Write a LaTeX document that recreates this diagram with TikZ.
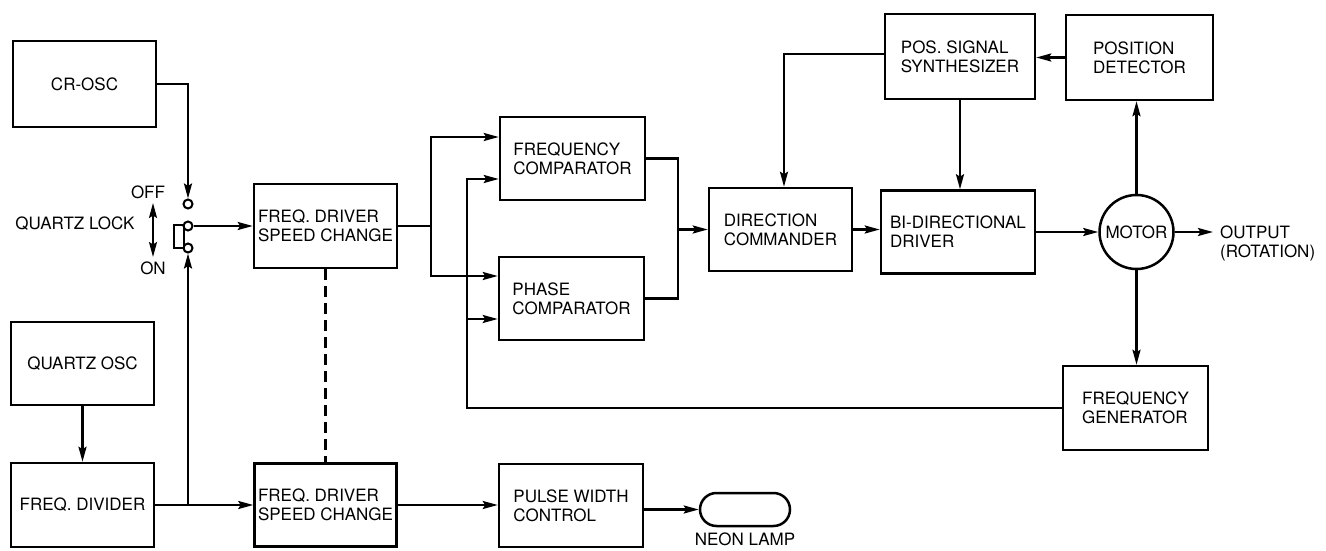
\documentclass[tikz,border=0pt]{standalone}
\usepackage{fontspec}
\setmainfont{TeX Gyre Heros}
\usetikzlibrary{arrows.meta}
\newcommand\diafont{\fontsize{17}{19}\selectfont}
\begin{document}
\begin{tikzpicture}[x=1pt,y=-1pt,
  line width=2.3pt,
  box/.style={draw, rectangle, inner sep=0pt, align=left, font=\diafont, line width=2.5pt},
  arr/.style={-{Stealth[length=15pt,width=8pt,inset=2.5pt]}},
  dblarr/.style={{Stealth[length=15pt,width=8pt,inset=2.5pt]}-{Stealth[length=15pt,width=8pt,inset=2.5pt]}},
  contact/.style={draw, circle, inner sep=0pt, minimum size=9pt, line width=2pt},
  lbl/.style={inner sep=0pt, align=left, font=\diafont}]
\useasboundingbox (0,0) rectangle (1326,551);
% boxes
\node[box, minimum width=143pt, minimum height=86pt] (crosc) at (84.5,84) {CR-OSC};
\node[box, minimum width=143pt, minimum height=83pt] (qosc) at (82.5,363.5) {QUARTZ OSC};
\node[box, minimum width=143pt, minimum height=84pt] (fdiv) at (82.5,505) {FREQ. DIVIDER};
\node[box, minimum width=143pt, minimum height=84pt] (fd1) at (325.5,226) {FREQ. DRIVER\\SPEED CHANGE};
\node[box, minimum width=142pt, minimum height=83pt] (fd2) at (325.5,505) {FREQ. DRIVER\\SPEED CHANGE};
\node[box, minimum width=145pt, minimum height=83pt] (fcomp) at (572.5,158.5) {FREQUENCY\\COMPARATOR};
\node[box, minimum width=145pt, minimum height=83pt] (pcomp) at (571.5,298.5) {PHASE\\COMPARATOR};
\node[box, minimum width=143pt, minimum height=83pt] (dcom) at (780.5,229.5) {DIRECTION\\COMMANDER};
\node[box, minimum width=154pt, minimum height=83pt] (bidd) at (958,232) {BI-DIRECTIONAL\\DRIVER};
\node[box, minimum width=150pt, minimum height=85pt] (pss) at (960,56.5) {POS. SIGNAL\\SYNTHESIZER};
\node[box, minimum width=147pt, minimum height=85pt] (pdet) at (1139.5,57.5) {POSITION\\DETECTOR};
\node[box, circle, minimum size=74pt] (motor) at (1136.5,232) {MOTOR};
\node[box, minimum width=145pt, minimum height=84pt] (fgen) at (1135.5,408) {FREQUENCY\\GENERATOR};
\node[box, minimum width=144pt, minimum height=83pt] (pwc) at (571,505.5) {PULSE WIDTH\\CONTROL};
\node[box, rounded corners=16.5pt, minimum width=90pt, minimum height=33pt] (lamp) at (745,509.5) {};
\node[lbl] (lamplbl) at (745,539) {NEON LAMP};
% switch
\node[contact] (coff) at (188,204) {};
\node[contact] (cmid) at (188,226) {};
\node[contact] (con) at (188,248) {};
\draw[line width=2pt] (174,225) rectangle (183.5,248);
\node[lbl] (offlbl) at (148,192) {OFF};
\node[lbl] (onlbl) at (153,268) {ON};
\node[lbl] (qlock) at (75,224) {QUARTZ LOCK};
\coordinate (swtop) at (153,203);
\coordinate (swbot) at (153,257);
\draw[dblarr, line width=2pt] (swtop) -- (swbot);
% output
\coordinate (outp) at (1213,232);
\node[lbl, anchor=west] (outlbl) at (1219,243) {OUTPUT\\(ROTATION)};
% connectors
\draw[arr] (crosc.east) -| (coff.north);
\draw[arr] (cmid.east) -- (fd1.west);
\coordinate (br) at (188,505);
\draw[arr] (fdiv.east) -- (fd2.west);
\draw[arr] (br) -- (con.south);
\draw[arr] (qosc.south) -- (fdiv.north);
\draw[dash pattern=on 11pt off 6pt] (fd1.south) -- (fd2.north);
\coordinate (sp1) at (431,226);
\draw (fd1.east) -- (sp1);
\draw[arr] (sp1) |- ([yshift=21.5pt]fcomp.west);
\draw[arr] (sp1) |- ([yshift=22.5pt]pcomp.west);
\coordinate (fbtop) at (467,179);
\draw[arr] (fgen.west) -| (fbtop) -- ([yshift=-20.5pt]fcomp.west);
\draw[arr] ([yshift=-20.5pt]pcomp.west -| fbtop) -- ([yshift=-20.5pt]pcomp.west);
\coordinate (mg) at (678,229.5);
\draw (fcomp.east) -| (mg);
\draw (pcomp.east) -| (mg);
\draw[arr] (mg) -- (dcom.west);
\draw[arr] (dcom.east) -- (dcom.east -| bidd.west);
\draw[arr] (bidd.east) -- (motor.west);
\draw[arr] (motor.north) -- (motor.north |- pdet.south);
\draw[arr] (pdet.west) -- (pdet.west -| pss.east);
\draw[arr] ([yshift=2.5pt]pss.west) -| ([xshift=3.5pt]dcom.north);
\draw[arr] (pss.south) -- (pss.south |- bidd.north);
\draw[arr] (motor.east) -- (outp);
\draw[arr] (motor.south) -- (motor.south |- fgen.north);
\draw[arr] (fd2.east) -- (fd2.east -| pwc.west);
\draw[arr] (pwc.east |- lamp.west) -- (lamp.west);
\end{tikzpicture}
\end{document}
